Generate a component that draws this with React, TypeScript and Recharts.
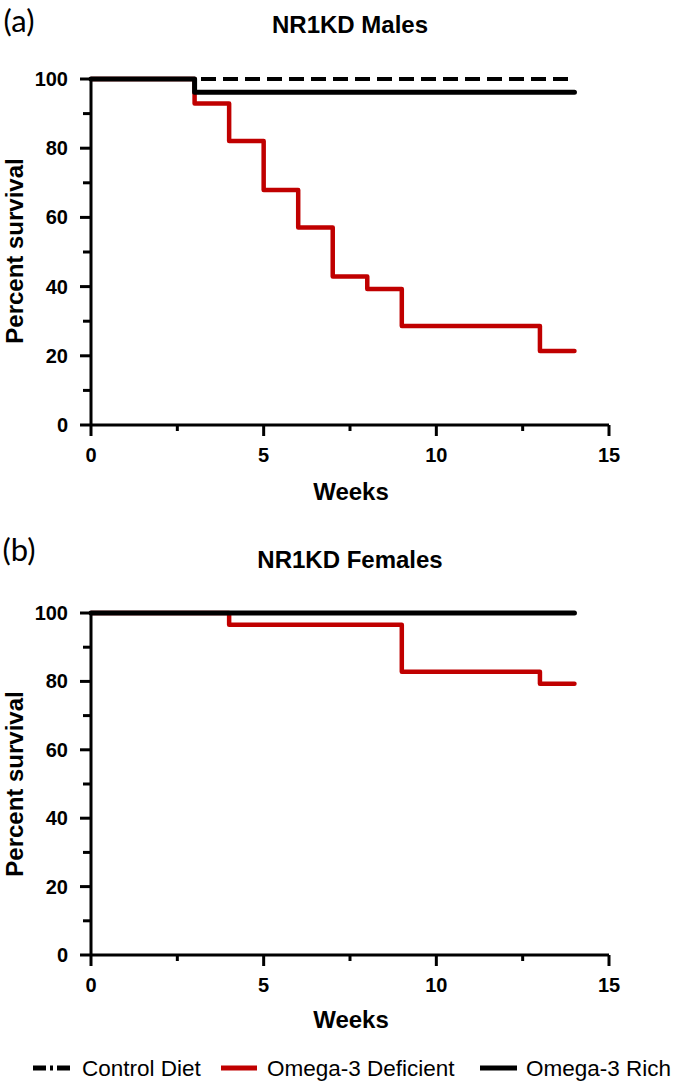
import { LineChart, Line, XAxis, YAxis } from "recharts";

// Kaplan-Meier steps (week, percent survival)
const maleWeeksControl = [0, 14];
const maleControl = [100, 100];
const maleWeeksDeficient = [0, 3, 4, 5, 6, 7, 8, 9, 13, 14];
const maleDeficient = [100, 92.9, 82.1, 67.9, 57.1, 42.9, 39.3, 28.6, 21.4, 21.4];
const maleWeeksRich = [0, 3, 14];
const maleRich = [100, 96.2, 96.2];

const femaleWeeksControl = [0, 14];
const femaleControl = [100, 100];
const femaleWeeksDeficient = [0, 4, 9, 13, 14];
const femaleDeficient = [100, 96.6, 82.8, 79.3, 79.3];
const femaleWeeksRich = [0, 14];
const femaleRich = [100, 100];

const xTicks = [0, 2.5, 5, 7.5, 10, 12.5, 15];
const yTicks = [0, 10, 20, 30, 40, 50, 60, 70, 80, 90, 100];
const seriesNames = ["Control Diet", "Omega-3 Deficient", "Omega-3 Rich"];

const RED = "#c00000";
const FONT = "'Liberation Sans', Arial, sans-serif";

const toRows = (weeks: number[], vals: number[]) =>
  weeks.map((w, i) => ({ week: w, pct: vals[i] }));

const XTick = (props: any) => {
  const { x, y, payload } = props;
  const v = payload.value;
  const major = v % 5 === 0;
  return (
    <g>
      <line x1={x} x2={x} y1={y} y2={y + (major ? 11 : 6)} stroke="#000" strokeWidth={3} />
      {major && (
        <text x={x} y={y + 30} textAnchor="middle" dominantBaseline="central"
          fontFamily={FONT} fontWeight="bold" fontSize={20} fill="#000">
          {v}
        </text>
      )}
    </g>
  );
};

const YTick = (props: any) => {
  const { x, y, payload } = props;
  const v = payload.value;
  const major = v % 20 === 0;
  return (
    <g>
      <line x1={x - (major ? 11 : 8)} x2={x} y1={y} y2={y} stroke="#000" strokeWidth={3} />
      {major && (
        <text x={x - 23} y={y} textAnchor="end" dominantBaseline="central"
          fontFamily={FONT} fontWeight="bold" fontSize={20} fill="#000">
          {v}
        </text>
      )}
    </g>
  );
};

type PanelProps = {
  top: number;
  margin: { top: number; bottom: number };
  control: { week: number; pct: number }[];
  deficient: { week: number; pct: number }[];
  rich: { week: number; pct: number }[];
};

function Panel({ top, margin, control, deficient, rich }: PanelProps) {
  return (
    <div style={{ position: "absolute", left: 0, top }}>
      <LineChart width={675} height={540}
        margin={{ top: margin.top, bottom: margin.bottom, left: 0, right: 66 }}>
        <XAxis type="number" dataKey="week" domain={[0, 15]} ticks={xTicks} interval={0}
          height={40} tickSize={0} tickMargin={0} tickLine={false}
          axisLine={{ stroke: "#000", strokeWidth: 3 }} tick={<XTick />} />
        <YAxis type="number" domain={[0, 100]} ticks={yTicks} interval={0}
          width={91} tickSize={0} tickMargin={0} tickLine={false}
          axisLine={{ stroke: "#000", strokeWidth: 3 }} tick={<YTick />} />
        <Line data={control} dataKey="pct" type="stepAfter" stroke="#000" strokeWidth={4}
          strokeDasharray="15 7" dot={false} isAnimationActive={false} />
        <Line data={deficient} dataKey="pct" type="stepAfter" stroke={RED} strokeWidth={4.5}
          dot={false} isAnimationActive={false} strokeLinejoin="round" strokeLinecap="round" />
        <Line data={rich} dataKey="pct" type="stepAfter" stroke="#000" strokeWidth={5}
          dot={false} isAnimationActive={false} strokeLinejoin="round" strokeLinecap="round" />
      </LineChart>
    </div>
  );
}

const textStyle = (x: number, y: number, size: number, bold: boolean, rotate = false): any => ({
  position: "absolute",
  left: x,
  top: y,
  transform: `translate(-50%, -50%)${rotate ? " rotate(-90deg)" : ""}`,
  fontFamily: FONT,
  fontWeight: bold ? "bold" : "normal",
  fontSize: size,
  whiteSpace: "nowrap",
  lineHeight: 1.2,
  color: "#000",
});

const legendText = (left: number): any => ({
  ...textStyle(0, 12, 22.5, false),
  transform: "translate(0, -50%)",
  left,
});

export default function App() {
  return (
    <div style={{ position: "absolute", left: 0, top: 0, width: 675, height: 1083, background: "#fff", overflow: "hidden" }}>
      <Panel top={0} margin={{ top: 79, bottom: 75 }}
        control={toRows(maleWeeksControl, maleControl)}
        deficient={toRows(maleWeeksDeficient, maleDeficient)}
        rich={toRows(maleWeeksRich, maleRich)} />
      <Panel top={540} margin={{ top: 73, bottom: 85 }}
        control={toRows(femaleWeeksControl, femaleControl)}
        deficient={toRows(femaleWeeksDeficient, femaleDeficient)}
        rich={toRows(femaleWeeksRich, femaleRich)} />

      <div style={{ ...textStyle(19, 21, 31, false), fontFamily: "Lato, 'Open Sans', sans-serif" }}>(a)</div>
      <div style={textStyle(350, 25, 24, true)}>NR1KD Males</div>
      <div style={textStyle(15, 251, 24, true, true)}>Percent survival</div>
      <div style={textStyle(351, 492, 24, true)}>Weeks</div>

      <div style={{ ...textStyle(19, 550, 31, false), fontFamily: "Lato, 'Open Sans', sans-serif" }}>(b)</div>
      <div style={textStyle(350, 560, 24, true)}>NR1KD Females</div>
      <div style={textStyle(15, 784, 24, true, true)}>Percent survival</div>
      <div style={textStyle(351, 1020, 24, true)}>Weeks</div>

      <div style={{ position: "absolute", left: 0, top: 1056, width: 675, height: 24 }}>
        <svg width={675} height={24} style={{ position: "absolute", left: 0, top: 0 }}>
          <line x1={33} x2={70} y1={12} y2={12} stroke="#000" strokeWidth={5} strokeDasharray="13 4 3 4" />
          <line x1={221} x2={257} y1={12} y2={12} stroke={RED} strokeWidth={5} />
          <line x1={480} x2={517} y1={12} y2={12} stroke="#000" strokeWidth={5} />
        </svg>
        <div style={legendText(82)}>{seriesNames[0]}</div>
        <div style={legendText(267)}>{seriesNames[1]}</div>
        <div style={legendText(526)}>{seriesNames[2]}</div>
      </div>
    </div>
  );
}
